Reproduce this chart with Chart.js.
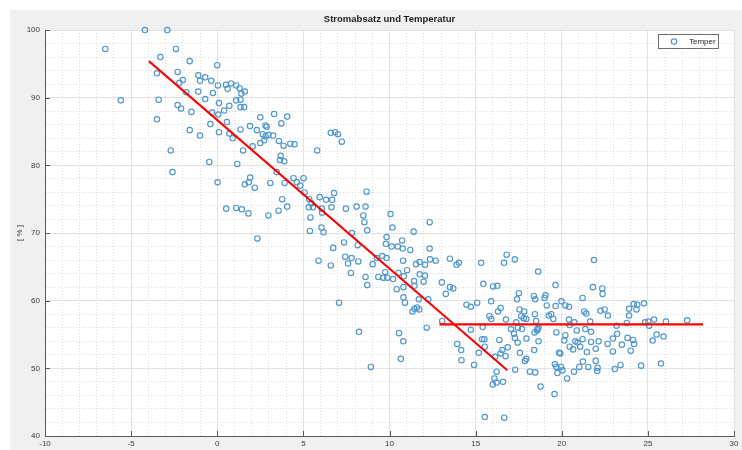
<!DOCTYPE html>
<html><head><meta charset="utf-8">
<script src="https://cdn.jsdelivr.net/npm/chart.js@4.4.1/dist/chart.umd.min.js"></script>
<style>html,body{margin:0;padding:0;background:#fff;}#wrap{width:742px;height:450px;}</style>
</head><body><div id="wrap"><canvas id="c" width="742" height="450"></canvas></div>
<script>
// Temperature (x) and Stromabsatz in % (y)
const temperature = [
 -4.2,-2.9,-6.5,-3.3,-2.4,-1.6,0.0,-3.5,-2.3,-2.2, -2.0,-1.1,-1.0,-0.7,-0.35,0.04,0.5,0.8,0.6,1.1,
 1.3,1.6,1.4,-1.8,-1.1,-0.25,-0.7,-5.6,-3.4,-2.3, -2.1,-1.5,0.1,0.7,0.4,0.06,-0.3,1.1,1.35,1.35,
 1.56,-3.5,-0.4,0.56,-1.6,-1.0,0.1,0.7,0.9,1.35, 1.9,2.3,2.5,2.06,1.5,-2.7,-0.46,1.16,2.5,
 3.3,4.06,2.8,2.87,3.72,2.64,2.81,2.97,3.24,2.73, 3.58,3.85,4.24,4.49,-2.6,3.68,3.64,3.89,5.8,6.59,
 6.84,7.01,7.23,3.45,0.02,1.6,1.83,1.91,2.18,3.08, 3.91,4.43,4.62,5.01,4.82,5.07,5.34,5.95,6.32,6.67,
 6.78,5.32,5.55,6.07,6.63,7.47,8.09,0.52,1.1,1.43, 1.81,2.97,3.56,4.06,5.41,6.09,5.38,6.05,6.17,7.82,
 7.36,6.73,8.15,2.33,
 3.77,5.47,8.61,8.67,8.48,8.54,8.71,5.88,6.59,7.43, 7.8,7.59,8.19,7.76,8.61,8.71,9.02,9.27,9.58,9.83,
 9.83,9.79,10.12,10.48,10.73,10.77,11.21,10.06,10.17,11.4, 12.33,12.33,10.79,9.75,10.52,10.83,11.02,11.54,11.75,12.06,
 12.35,12.68,13.51,13.89,14.03,11.75,12.06,11.43,11.98,11.45, 10.81,10.42,10.21,9.87,9.64,9.35,13.04,13.51,13.7,13.27,
 10.81,10.9,11.7,12.25,11.45,11.6,7.07,14.47,14.72,15.09,
 15.32,16.8,16.65,17.28,18.63,21.87,11.73,13.06,12.16,15.45, 16.01,16.26,15.9,15.8,15.91,16.45,16.3,16.76,17.51,17.4,
 17.55,17.82,17.65,17.79,17.36,17.46,17.69,17.05,17.23,17.28, 17.44,17.95,18.38,18.46,19.06,19.0,18.44,18.51,18.59,18.57,
 18.65,18.42,18.65,19.13,19.25,19.64,19.64,19.69,19.98,20.21, 20.42,19.51,20.42,20.21,20.15,20.46,20.66,19.84,19.92,19.6,
 19.69,19.75,20.31,19.58,18.77,18.15,18.46,17.3,17.94,17.86, 17.57,18.4,16.86,16.74,16.45,16.55,16.13,16.22,16.09,16.0,
 16.22,16.59,15.53,16.66,14.91,15.18,15.38,15.51,15.53,15.41, 14.72,13.93,14.16,14.18,16.38,17.94,19.39,20.73,21.21,21.3,
 21.42,21.65,21.21,21.46,20.92,19.96,20.04,21.02,21.23,21.54, 21.97,22.08,22.06,20.71,22.14,21.97,21.81,22.35,22.37,22.25,
 22.49,22.68,22.97,23.22,22.66,22.97,23.08,
 20.46,20.87,21.37,21.7,20.79,21.7,23.18,23.78,23.91,24.18, 24.38,24.34,24.77,23.91,23.49,23.82,24.14,24.2,24.0,23.41,
 24.61,25.76,24.84,25.03,25.07,25.36,26.05,27.28,25.51,25.91, 25.28,21.07,
 11.33,8.23,10.55,10.8,10.66,8.92
];
const salesPct = [
 100,100,97.2,96.0,97.2,95.4,94.8,93.6,93.8,92.2, 92.6,93.3,92.5,93.0,92.5,91.8,91.9,92.1,91.3,91.8,
 91.4,90.9,90.6,90.8,90.9,90.7,89.8,89.6,89.7,88.9, 88.4,87.9,89.2,88.8,88.1,87.5,87.8,89.6,89.7,88.6,
 88.6,86.8,86.1,86.4,85.2,84.4,84.9,84.7,84.0,85.3, 85.8,85.2,87.1,82.8,82.2,82.2,80.5,80.2,83.3,
 87.6,87.2,85.9,85.7,86.2,84.6,84.3,84.5,84.4,83.7, 83.6,82.9,83.2,83.1,79.0,81.4,80.8,80.6,82.2,84.8,
 84.9,84.6,83.5,79.0,77.5,77.2,77.5,78.2,76.7,77.4, 77.4,78.1,77.5,78.1,77.0,76.0,75.0,75.3,74.9,74.9,
 75.9,73.8,73.8,73.6,73.8,73.6,73.9,73.6,73.7,73.5, 72.9,72.6,73.3,73.9,72.3,73.0,70.3,70.8,70.1,70.0,
 68.6,67.8,68.2,69.2,
 75.0,74.4,73.9,76.1,72.6,71.6,70.4,65.9,65.2,66.5, 66.3,65.5,65.8,64.1,63.5,62.3,65.4,66.3,66.6,66.3,
 69.4,68.4,68.0,68.0,68.9,67.7,67.5,72.8,70.8,70.2, 71.6,67.7,65.9,64.2,64.1,63.6,64.5,65.4,65.7,65.3,
 66.1,65.9,66.2,65.3,65.6,63.9,63.7,62.9,62.8,62.2, 62.0,61.7,63.2,63.4,63.4,63.5,62.7,62.0,61.8,61.0,
 60.5,59.7,60.2,60.2,58.8,59.0,59.7,59.4,59.1,59.7,
 65.6,66.8,65.6,66.1,64.3,66.0,58.7,57.0,56.0,62.5, 62.1,62.2,59.9,57.7,57.3,58.9,58.4,57.2,61.1,60.2,
 58.7,58.4,57.7,57.4,56.8,56.0,55.8,55.8,55.1,54.5, 53.8,54.4,60.7,60.2,60.8,60.4,58.0,57.0,55.8,55.6,
 56.0,55.3,54.0,59.3,57.8,62.3,59.2,55.3,59.9,59.3, 59.1,57.3,57.2,54.9,54.1,53.2,52.8,52.3,52.2,50.6,
 50.2,49.3,48.5,46.2,47.3,49.5,49.4,49.8,51.4,51.1, 52.3,52.7,53.1,51.8,52.2,52.7,51.7,49.5,48.5,47.6,
 47.9,48.0,42.8,42.7,50.5,52.3,54.3,54.3,53.2,56.1, 55.7,53.6,52.7,51.2,54.2,57.3,58.0,56.8,60.4,58.4,
 58.1,56.9,54.3,52.4,53.8,50.2,49.7,50.2,51.0,50.2, 51.1,50.1,49.6,49.5,54.0,52.9,62.0,61.8,61.0,58.5,
 58.7,57.8,54.4,55.1,53.6,52.5,49.9,
 56.4,55.6,55.8,55.4,54.0,53.9,56.3,56.7,58.8,59.5, 59.4,58.7,59.6,57.8,53.5,54.5,54.2,53.6,52.6,50.5,
 50.4,50.7,56.8,56.9,56.3,57.2,56.9,57.1,55.0,54.7, 54.1,53.2,
 58.4,55.4,55.2,54.0,51.4,50.2
];
// Red fit lines (end points)
const trendDownX = [-3.97, 16.84];
const trendDownY = [95.4, 49.7];
const trendFlatX = [12.9, 28.2];
const trendFlatY = [56.5, 56.5];
// Major tick labels
const xTickLabels = [-10, -5, 0, 5, 10, 15, 20, 25, 30];
const yTickLabels = [40, 50, 60, 70, 80, 90, 100];

const FONT = "'Liberation Sans', Arial, Helvetica, sans-serif";
Chart.defaults.font.family = FONT;

const toPts = (xs, ys) => xs.map((x, i) => ({x: x, y: ys[i]}));
const AXIS = '#5a5a5a';
const MAJOR = '#e1e1e1';
const MINOR = '#dcdcdc';

const bgPlugin = {
  id: 'bg',
  beforeDraw(chart) {
    const {ctx, chartArea: a} = chart;
    ctx.save();
    ctx.fillStyle = '#ffffff';
    ctx.fillRect(0, 0, chart.width, chart.height);
    ctx.fillStyle = '#f0f0f0';
    ctx.fillRect(10, 10, chart.width - 10, chart.height - 10);
    ctx.fillStyle = '#ffffff';
    ctx.fillRect(a.left, a.top, a.right - a.left, a.bottom - a.top);
    ctx.restore();
  }
};

const decoPlugin = {
  id: 'deco',
  afterDraw(chart) {
    const {ctx, chartArea: a, scales} = chart;
    ctx.save();
    ctx.strokeStyle = AXIS;
    ctx.lineWidth = 1;
    ctx.beginPath();
    xTickLabels.forEach(v => {
      const px = Math.round(scales.x.getPixelForValue(v)) + 0.5;
      ctx.moveTo(px, a.bottom); ctx.lineTo(px, a.bottom - 5);
    });
    yTickLabels.forEach(v => {
      const py = Math.round(scales.y.getPixelForValue(v)) + 0.5;
      ctx.moveTo(a.left, py); ctx.lineTo(a.left + 5, py);
    });
    ctx.stroke();
    // legend box
    const ds = chart.data.datasets[0];
    const bx = 658.5, by = 34.5, bw = 60, bh = 14;
    ctx.fillStyle = '#ffffff';
    ctx.fillRect(bx, by, bw, bh);
    ctx.strokeStyle = '#6e6e6e';
    ctx.strokeRect(bx, by, bw, bh);
    ctx.beginPath();
    ctx.strokeStyle = ds.pointBorderColor;
    ctx.lineWidth = ds.pointBorderWidth;
    ctx.arc(674, 41.5, ds.pointRadius, 0, Math.PI * 2);
    ctx.stroke();
    ctx.fillStyle = '#1e1e1e';
    ctx.font = '8px ' + FONT;
    ctx.textBaseline = 'middle';
    ctx.textAlign = 'left';
    ctx.fillText(ds.label, 689, 42);
    ctx.restore();
  }
};

new Chart(document.getElementById('c'), {
  type: 'scatter',
  data: {
    datasets: [
      {
        type: 'scatter',
        label: 'Temper',
        data: toPts(temperature, salesPct),
        pointRadius: 2.7,
        pointBorderWidth: 1.15,
        pointBorderColor: '#4f96cf',
        pointBackgroundColor: 'rgba(0,0,0,0)',
        clip: false,
        order: 2
      },
      {
        type: 'line',
        label: 'Fit 1',
        data: toPts(trendDownX, trendDownY),
        borderColor: '#ff0000',
        borderWidth: 2,
        pointRadius: 0,
        fill: false,
        showLine: true,
        order: 1
      },
      {
        type: 'line',
        label: 'Fit 2',
        data: toPts(trendFlatX, trendFlatY),
        borderColor: '#ff0000',
        borderWidth: 2.3,
        pointRadius: 0,
        fill: false,
        showLine: true,
        order: 1
      }
    ]
  },
  options: {
    responsive: false,
    animation: false,
    layout: { padding: { top: 10, left: 0, right: 8, bottom: 0 } },
    plugins: {
      legend: { display: false },
      tooltip: { enabled: false },
      title: {
        display: true,
        fullSize: false,
        text: 'Stromabsatz und Temperatur',
        color: '#1e1e1e',
        font: { size: 9.5, weight: 'bold', family: FONT },
        padding: { top: 4, bottom: 4.6 }
      }
    },
    scales: {
      x: {
        type: 'linear',
        position: 'bottom',
        min: -10, max: 30,
        afterFit(s) { s.height = 14; },
        ticks: {
          stepSize: 1, autoSkip: false, maxRotation: 0, padding: 3,
          color: '#3a3a3a', font: { size: 8 },
          callback: v => (v % 5 === 0 ? String(v) : '')
        },
        grid: {
          drawTicks: false,
          lineWidth: 1,
          color: c => (c.tick && c.tick.value % 5 === 0) ? MAJOR : MINOR
        },
        border: {
          display: true, color: AXIS, width: 1,
          dash: c => (c.tick && c.tick.value % 5 !== 0) ? [1, 2] : []
        }
      },
      y: {
        type: 'linear',
        position: 'left',
        min: 40, max: 100,
        afterFit(s) { s.width = 45; },
        title: {
          display: true, text: '[ % ]', color: '#3a3a3a',
          font: { size: 8 }, padding: { top: 15, bottom: 0 }
        },
        ticks: {
          stepSize: 2, autoSkip: false, padding: 5,
          color: '#3a3a3a', font: { size: 8 },
          callback: v => (v % 10 === 0 ? String(v) : '')
        },
        grid: {
          drawTicks: false,
          lineWidth: 1,
          color: c => (c.tick && c.tick.value % 10 === 0) ? MAJOR : MINOR
        },
        border: {
          display: true, color: AXIS, width: 1,
          dash: c => (c.tick && c.tick.value % 10 !== 0) ? [1, 2] : []
        }
      }
    }
  },
  plugins: [bgPlugin, decoPlugin]
});
</script>
</body></html>
